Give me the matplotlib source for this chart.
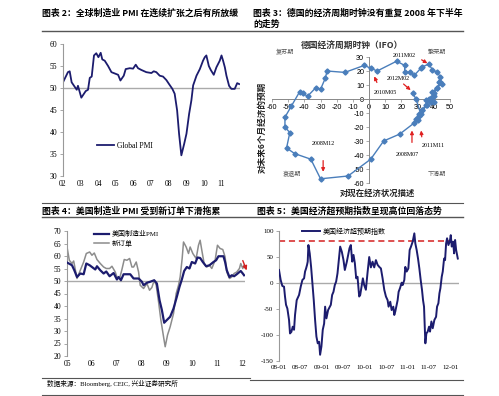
import matplotlib
matplotlib.use('Agg')
import matplotlib.pyplot as plt
from matplotlib.lines import Line2D

CJK = 'Noto Sans CJK SC'
SERIF = ['Liberation Serif', CJK]
plt.rcParams['font.family'] = SERIF
plt.rcParams['axes.unicode_minus'] = False

# chart 2: global PMI
g_year = [2002.00, 2002.28, 2002.38, 2002.49, 2002.66, 2002.78, 2002.85, 2003.04, 2003.29, 2003.42,
          2003.52, 2003.63, 2003.76, 2003.89, 2004.01, 2004.14, 2004.23, 2004.37, 2004.56, 2004.75,
          2004.94, 2005.13, 2005.26, 2005.45, 2005.56, 2005.79, 2005.98, 2006.13, 2006.26, 2006.45,
          2006.73, 2007.02, 2007.15, 2007.30, 2007.49, 2007.68, 2007.87, 2008.02, 2008.21, 2008.34,
          2008.48, 2008.59, 2008.72, 2008.88, 2009.01, 2009.16, 2009.29, 2009.39, 2009.58, 2009.77,
          2009.95, 2010.05, 2010.14, 2010.28, 2010.39, 2010.56, 2010.71, 2010.90, 2011.00, 2011.09,
          2011.19, 2011.28, 2011.43, 2011.56, 2011.75, 2011.89, 2012.00]
g_pmi = [51.3, 53.6, 53.8, 51.3, 50.3, 49.6, 50.5, 47.8, 49.3, 49.6,
         52.3, 52.6, 57.4, 57.9, 57.0, 58.0, 56.5, 56.2, 55.0, 53.6,
         53.3, 53.0, 51.7, 52.8, 54.3, 54.5, 54.4, 55.3, 54.5, 54.1,
         53.6, 53.4, 53.8, 53.6, 52.8, 52.6, 51.8, 50.9, 49.8, 48.7,
         44.9, 39.6, 34.7, 37.3, 39.6, 44.1, 47.2, 50.6, 52.8, 54.3,
         56.2, 57.0, 57.4, 55.0, 54.1, 53.0, 54.7, 56.2, 57.4, 56.2,
         54.7, 52.8, 50.5, 49.8, 49.8, 51.1, 50.9]
g_ticks = ['02', '03', '04', '05', '06', '07', '08', '09', '10', '11']

# chart 3: German Ifo clock
clock_x = [44, 42, 39, 40, 37, 38, 35, 36, 33, 31, 29, 28, 19, 9, 1, -13, -30, -36, -46, -51,
           -49, -52, -52, -48, -43, -41, -38, -33, -30, -27, -26, -15, -3, 1, 5, 17, 22, 22, 25, 28,
           32, 33, 37, 39, 42, 44, 43, 45, 42, 40, 38, 40, 37, 35, 33, 31, 30, 32, 29, 27]
clock_y = [12, 8, 5, 2, 0, -2, -1, -4, -8, -11, -14, -17, -25, -30, -43, -55, -57, -43, -39, -35,
           -24, -20, -13, -5, 5, 4, 2, 8, 7, 15, 20, 19, 24, 22, 20, 27, 24, 19, 19, 17,
           22, 23, 25, 21, 19, 16, 12, 11, 8, 4, 1, -2, -1, -4, -8, -12, -15, -11, 0, 4]
clock_notes = ['2011M02', '2012M02', '2010M05', '2011M11', '2008M07', '2008M12']
note_text = [(22, 31), (18, 15), (10, 5), (39.5, -33), (23.5, -40), (-28.4, -32)]
note_tail = [(31, 29), (20, 12), (5.5, 10), (32.7, -29), (26.5, -33), (-28.4, -42)]
note_tip = [(37.5, 24.5), (27, 5), (2.5, 18), (32, -20.5), (26.5, -20.5), (-28.4, -54)]
phases = ['复苏期', '繁荣期', '衰退期', '下滑期']

# chart 4: US ISM PMI and new orders
u_year = [2005.000, 2005.200, 2005.293, 2005.400, 2005.533, 2005.667, 2005.773, 2005.907, 2006.000, 2006.133,
          2006.200, 2006.333, 2006.467, 2006.573, 2006.707, 2006.867, 2007.000, 2007.067, 2007.160, 2007.267,
          2007.533, 2007.667, 2007.867, 2008.000, 2008.067, 2008.200, 2008.333, 2008.493, 2008.600, 2008.707,
          2008.800, 2008.893, 2009.000, 2009.133, 2009.267, 2009.400, 2009.507, 2009.600, 2009.693, 2009.800,
          2009.907, 2010.000, 2010.133, 2010.227, 2010.333, 2010.440, 2010.573, 2010.707, 2010.867, 2010.973,
          2011.067, 2011.267, 2011.333, 2011.400, 2011.507, 2011.600, 2011.693, 2011.800, 2011.907, 2011.960,
          2012.040, 2012.093]
u_pmi = [57.4, 56.3, 54.3, 51.6, 53.0, 52.7, 57.0, 56.3, 55.6, 54.6,
         55.9, 54.3, 53.0, 53.8, 51.9, 53.2, 50.6, 51.6, 50.3, 52.7,
         52.7, 51.0, 51.0, 49.7, 48.3, 49.3, 49.7, 50.3, 49.0, 42.3,
         38.4, 33.3, 34.4, 35.7, 39.0, 43.7, 47.7, 50.6, 54.0, 55.6,
         55.0, 57.6, 57.0, 59.4, 59.2, 57.6, 55.9, 56.3, 57.6, 58.3,
         59.9, 59.9, 57.6, 54.3, 51.6, 52.3, 51.9, 52.7, 53.6, 54.0,
         53.0, 52.3]
n_year = [2005.000, 2005.093, 2005.200, 2005.267, 2005.400, 2005.533, 2005.667, 2005.773, 2005.907, 2006.000,
          2006.093, 2006.200, 2006.333, 2006.467, 2006.573, 2006.707, 2006.800, 2006.933, 2007.000, 2007.107,
          2007.200, 2007.293, 2007.400, 2007.507, 2007.600, 2007.667, 2007.773, 2007.867, 2007.933, 2008.067,
          2008.200, 2008.307, 2008.400, 2008.493, 2008.573, 2008.667, 2008.760, 2008.867, 2008.933, 2009.027,
          2009.133, 2009.267, 2009.373, 2009.467, 2009.533, 2009.613, 2009.667, 2009.773, 2009.867, 2009.933,
          2010.040, 2010.173, 2010.267, 2010.333, 2010.400, 2010.493, 2010.600, 2010.707, 2010.800, 2010.933,
          2011.027, 2011.133, 2011.240, 2011.333, 2011.400, 2011.507, 2011.600, 2011.693, 2011.800, 2011.907,
          2011.960, 2012.040, 2012.093]
n_orders = [63.6, 58.3, 57.0, 58.0, 51.0, 54.3, 57.6, 61.0, 61.6, 60.3,
            61.2, 58.6, 57.0, 55.6, 55.0, 55.0, 55.9, 53.6, 51.6, 51.0,
            54.6, 58.6, 58.3, 59.0, 55.6, 55.6, 57.6, 53.6, 48.3, 47.0,
            49.0, 46.3, 47.4, 50.3, 48.3, 41.7, 34.4, 27.7, 23.7, 28.4,
            31.7, 37.0, 45.0, 48.3, 51.6, 59.0, 65.6, 63.6, 61.0, 63.6,
            61.0, 59.0, 64.3, 66.3, 62.3, 57.0, 55.6, 56.3, 55.0, 58.3,
            64.3, 63.0, 62.6, 59.6, 53.6, 51.0, 51.6, 53.0, 53.6, 55.0,
            57.0, 55.0, 56.3]
u_ticks = ['05', '06', '07', '08', '09', '10', '11', '12']

# chart 5: US economic surprise index
s_year = [2008.000, 2008.039, 2008.078, 2008.117, 2008.140, 2008.164, 2008.195, 2008.234, 2008.257, 2008.289,
          2008.320, 2008.351, 2008.374, 2008.413, 2008.468, 2008.507, 2008.546, 2008.585, 2008.608, 2008.632,
          2008.655, 2008.670, 2008.686, 2008.717, 2008.749, 2008.780, 2008.811, 2008.842, 2008.873, 2008.904,
          2008.936, 2008.959, 2008.990, 2009.021, 2009.053, 2009.076, 2009.107, 2009.146, 2009.209, 2009.240,
          2009.271, 2009.302, 2009.333, 2009.365, 2009.404, 2009.427, 2009.466, 2009.505, 2009.536, 2009.583,
          2009.614, 2009.645, 2009.676, 2009.708, 2009.739, 2009.770, 2009.801, 2009.832, 2009.871, 2009.895,
          2009.926, 2009.957, 2009.988, 2010.027, 2010.066, 2010.105, 2010.144, 2010.183, 2010.222, 2010.261,
          2010.300, 2010.339, 2010.378, 2010.417, 2010.456, 2010.495, 2010.534, 2010.557, 2010.596, 2010.628,
          2010.667, 2010.690, 2010.713, 2010.737, 2010.768, 2010.791, 2010.823, 2010.862, 2010.885, 2010.924,
          2010.947, 2010.979, 2011.018, 2011.049, 2011.080, 2011.119, 2011.158, 2011.181, 2011.212, 2011.244,
          2011.275, 2011.306, 2011.337, 2011.361, 2011.384, 2011.400, 2011.415, 2011.439, 2011.470, 2011.501,
          2011.524, 2011.556, 2011.587, 2011.626, 2011.665, 2011.688, 2011.719, 2011.743, 2011.766, 2011.797,
          2011.821, 2011.852, 2011.875, 2011.899, 2011.922, 2011.953, 2011.984, 2012.008, 2012.031, 2012.062,
          2012.086, 2012.109, 2012.133, 2012.172]
s_index = [25, 5.8, -5.8, -7, -26, -42, -49, -71, -97, -94,
           -84, -90, -61.5, -33, -23, -7, 5.8, 9, 22, 28,
           35, 41, 73, 57, 31, -0.6, -33, -71, -103, -116,
           -113, -138, -122, -90, -78, -45.5, -68, -52, -42, -23,
           -17, -4, 2.6, 18.6, 50.6, 70, 60, 44, 25, 41,
           54, 67, 73, 41, 54, 38, 9, 12, -26, -23,
           -7, 9, -4, -13, 20, 50, 30, 41, 30, 44,
           35, 31, 28, 9, -13, -26, -33, -45.5, -36, -52,
           -45.5, -61.5, -55, -45.5, -33, -17, -10, 0.6, -4, 5.8,
           31, 22, 28, 63.5, 70, 79.5, 95.5, 76, 63.5, 47,
           28, 5.8, -13.5, -33, -45.5, -84, -116, -97, -93.5, -84,
           -93.5, -74, -87, -71, -65, -45.5, -39, -20, -10, 12,
           22, 47, 44, 76, 86, 73, 79.5, 92, 70, 79.5,
           57, 82.7, 63.5, 47]
s_ticks = ['08-01', '08-07', '09-01', '09-07', '10-01', '10-07', '11-01', '11-07', '12-01']

W, H = 499, 396
fig = plt.figure(figsize=(W / 100, H / 100), dpi=100)


def fx(px):
    return px / W


def fy(py):
    return 1 - py / H


def hline(x0, x1, y, lw=0.8, color='#555555'):
    fig.add_artist(Line2D([fx(x0), fx(x1)], [fy(y), fy(y)], lw=lw, color=color))


def style_left(ax, size):
    for s in ['top', 'right', 'bottom']:
        ax.spines[s].set_visible(False)
    ax.spines['left'].set_color('#999999')
    ax.spines['left'].set_linewidth(0.8)
    ax.tick_params(axis='y', length=2, width=0.6, color='#999999', labelsize=size, pad=2)
    ax.tick_params(axis='x', length=0, labelsize=size, pad=3)


title_kw = dict(fontsize=6.4, fontweight='bold', family=[CJK], va='center')
fig.text(fx(42), fy(13), '图表 2：全球制造业 PMI 在连续扩张之后有所放缓', **title_kw)
fig.text(fx(253), fy(13), '图表 3：德国的经济周期时钟没有重复 2008 年下半年', **title_kw)
fig.text(fx(253), fy(24.5), '的走势', **title_kw)
fig.text(fx(42), fy(211.5), '图表 4：美国制造业 PMI 受到新订单下滑拖累', **title_kw)
fig.text(fx(257), fy(211.5), '图表 5：美国经济超预期指数呈现高位回落态势', **title_kw)
hline(42, 463, 30.5, lw=1.0)
hline(42, 463, 202.5)
hline(42, 463, 217.5, lw=1.0)
hline(42, 250, 377.5)
hline(250, 463, 379.5)
hline(42, 463, 395)
fig.text(fx(47), fy(383.5), '数据来源：Bloomberg, CEIC, 兴业证券研究所', fontsize=4.8, va='center')

# ---- global PMI
ax1 = fig.add_axes([fx(63), fy(176), fx(240) - fx(63), fy(44) - fy(176)])
ax1.axhline(50, color='#aaaaaa', lw=1.0, zorder=1)
ax1.plot(g_year, g_pmi, color='#1c1c6e', lw=1.3, label='Global PMI', zorder=2)
ax1.set_xlim(2002, 2012.05)
ax1.set_ylim(30, 60)
ax1.set_yticks(range(30, 61, 5))
ax1.set_xticks(range(2002, 2012), g_ticks)
style_left(ax1, 5.5)
ax1.legend(loc='center left', bbox_to_anchor=(0.17, 0.227), frameon=False, fontsize=5.5,
           handlelength=2.2, handletextpad=0.4, borderpad=0)

# ---- Ifo clock
ax2 = fig.add_axes([fx(272), fy(183), fx(450) - fx(272), fy(57) - fy(183)])
ax2.plot(clock_x, clock_y, color='#4a7ebb', lw=1.0, marker='D', ms=2.6, zorder=3)
ax2.set_xlim(-60, 50)
ax2.set_ylim(-60, 30)
ax2.set_xticks(range(-60, 51, 10))
ax2.set_yticks(range(-60, 31, 10))
for s in ['top', 'right']:
    ax2.spines[s].set_visible(False)
for s in ['left', 'bottom']:
    ax2.spines[s].set_position(('data', 0))
    ax2.spines[s].set_color('#888888')
    ax2.spines[s].set_linewidth(0.7)
ax2.tick_params(length=2, width=0.5, color='#888888', labelsize=5.2, pad=1.5)
for lab in ax2.get_xticklabels() + ax2.get_yticklabels():
    lab.set_family(['Liberation Sans'])
ax2.patch.set_alpha(0)
fig.text(fx(352), fy(45), '德国经济周期时钟（IFO）', fontsize=6.3, fontweight='bold', family=[CJK],
         ha='center', va='center', color='#333333')
fig.text(fx(262), fy(127), '对未来6个月经济的预期', fontsize=6.2, fontweight='bold', family=[CJK],
         ha='center', va='center', rotation=90, color='#222222')
fig.text(fx(377), fy(193), '对现在经济状况描述', fontsize=6.0, fontweight='bold', family=[CJK],
         ha='center', va='center', color='#222222')
for name, (px, py) in zip(phases, [(285, 52), (437, 52), (292, 174), (437, 174)]):
    fig.text(fx(px), fy(py), name, fontsize=4.4, family=[CJK], color='#555555', ha='center', va='center')
for name, tx, tail, tip in zip(clock_notes, note_text, note_tail, note_tip):
    ax2.text(tx[0], tx[1], name, fontsize=4.3, ha='center', va='center', family=SERIF, clip_on=False)
    ax2.annotate('', xy=tip, xytext=tail, annotation_clip=False,
                 arrowprops=dict(arrowstyle='-|>', color='#e02020', lw=0.9, mutation_scale=5))

# ---- US PMI
ax3 = fig.add_axes([fx(67), fy(356), fx(245) - fx(67), fy(231) - fy(356)])
ax3.axhline(50, color='#aaaaaa', lw=1.0, zorder=1)
ax3.plot(u_year, u_pmi, color='#1c1c6e', lw=1.6, label='美国制造业PMI', zorder=3)
ax3.plot(n_year, n_orders, color='#8c8c8c', lw=1.1, label='新订单', zorder=2)
ax3.set_xlim(2005, 2012.13)
ax3.set_ylim(20, 70)
ax3.set_yticks(range(20, 71, 5))
ax3.set_xticks(range(2005, 2013), u_ticks)
style_left(ax3, 5.5)
ax3.legend(loc='upper left', bbox_to_anchor=(0.13, 1.035), frameon=False, fontsize=5,
           handlelength=2.2, handletextpad=0.4, borderpad=0, labelspacing=0.35)
ax3.annotate('', xy=(2012.24, 53.2), xytext=(2012.0, 59.2), annotation_clip=False,
             arrowprops=dict(arrowstyle='-|>', color='#d42020', lw=1.0, mutation_scale=6))

# ---- surprise index
ax4 = fig.add_axes([fx(279), fy(361), fx(459) - fx(279), fy(231) - fy(361)])
ax4.axhline(0, color='#aaaaaa', lw=1.0, zorder=1)
ax4.axhline(80, xmax=0.95, color='#d42020', lw=1.1, ls=(0, (4, 2.5)), zorder=2)
ax4.plot(s_year, s_index, color='#1c1c6e', lw=1.4, label='美国经济超预期指数', zorder=3)
ax4.set_xlim(2008, 2012.2)
ax4.set_ylim(-150, 100)
ax4.set_yticks(range(-150, 101, 50))
ax4.set_xticks([2008 + 0.5 * i for i in range(9)], s_ticks)
style_left(ax4, 5.0)
ax4.legend(loc='center left', bbox_to_anchor=(0.11, 1.0), frameon=False, fontsize=5,
           handlelength=2.5, handletextpad=0.4, borderpad=0)

fig.savefig('out.png', dpi=100)
